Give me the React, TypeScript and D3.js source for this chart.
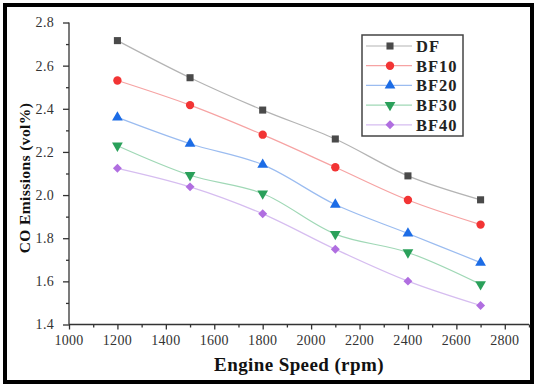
import React, { useRef, useEffect } from 'react';
import * as d3 from 'd3';

// engine speed (rpm)
const speeds = [1200, 1500, 1800, 2100, 2400, 2700];

// CO emissions (vol%) per fuel blend
const dfValues = [2.716, 2.544, 2.394, 2.26, 2.089, 1.978];
const bf10Values = [2.531, 2.417, 2.28, 2.129, 1.977, 1.863];
const bf20Values = [2.36, 2.238, 2.141, 1.956, 1.822, 1.687];
const bf30Values = [2.229, 2.092, 2.007, 1.819, 1.734, 1.586];
const bf40Values = [2.124, 2.038, 1.913, 1.749, 1.601, 1.488];

const seriesNames = ['DF', 'BF10', 'BF20', 'BF30', 'BF40'];
const xTicks = [1000, 1200, 1400, 1600, 1800, 2000, 2200, 2400, 2600, 2800];
const yTicks = [1.4, 1.6, 1.8, 2.0, 2.2, 2.4, 2.6, 2.8];

const App = () => {
    const svgRef = useRef(null);

    useEffect(() => {
        const svg = d3.select(svgRef.current);
        svg.selectAll('*').remove();

        const width = 537;
        const height = 385;

        svg.attr('width', width).attr('height', height);

        // white background and black frame
        svg.append('rect').attr('width', width).attr('height', height).attr('fill', '#fff');
        svg.append('rect')
            .attr('x', 5).attr('y', 5)
            .attr('width', 527).attr('height', 377)
            .attr('fill', 'none')
            .attr('stroke', '#000')
            .attr('stroke-width', 4);

        const x = d3.scaleLinear().domain([1000, 2900]).range([69, 529]);
        const y = d3.scaleLinear().domain([1.4, 2.8]).range([324.5, 22.5]);

        // diamond = square turned 45 degrees
        const series = [
            { name: seriesNames[0], values: dfValues, marker: '#4a4a4a', line: '#b4b4b4', symbol: d3.symbolSquare, size: 50, rot: 0 },
            { name: seriesNames[1], values: bf10Values, marker: '#f23434', line: '#f6a3a3', symbol: d3.symbolCircle, size: 55, rot: 0 },
            { name: seriesNames[2], values: bf20Values, marker: '#1c6ce6', line: '#9bbcf0', symbol: d3.symbolTriangle, size: 50, rot: 0 },
            { name: seriesNames[3], values: bf30Values, marker: '#2aa05a', line: '#a0d8b6', symbol: d3.symbolTriangle, size: 50, rot: 180 },
            { name: seriesNames[4], values: bf40Values, marker: '#b06ee0', line: '#d6bdf0', symbol: d3.symbolSquare, size: 40, rot: 45 },
        ];

        const font = "'Liberation Serif', 'Times New Roman', Times, serif";

        // axes
        const xAxis = svg.append('g').attr('transform', `translate(0,${y(1.4)})`);
        xAxis.call(d3.axisBottom(x).tickValues(d3.range(1000, 2901, 100)).tickSize(3).tickFormat(() => ''));
        xAxis.call(g => g.selectAll('.tick').filter(d => (d as number) % 200 === 0).select('line').attr('y2', 5));
        xAxis.selectAll('path,line').attr('stroke', '#333').attr('stroke-width', 1.3);
        xAxis.select('.domain').attr('d', `M${x(1000)},0H${x(2900)}`);

        svg.append('g').selectAll('text').data(xTicks).join('text')
            .attr('x', d => x(d))
            .attr('y', y(1.4) + 20)
            .attr('text-anchor', 'middle')
            .style('font-family', font)
            .style('font-size', '14px')
            .style('letter-spacing', '0.3px')
            .attr('fill', '#333')
            .text(d => d);

        const yAxis = svg.append('g').attr('transform', `translate(${x(1000)},0)`);
        yAxis.call(d3.axisLeft(y).tickValues(d3.range(14, 29).map(v => v / 10)).tickSize(3).tickFormat(() => ''));
        yAxis.call(g => g.selectAll('.tick').filter(d => Math.round((d as number) * 10) % 2 === 0).select('line').attr('x2', -6));
        yAxis.selectAll('path,line').attr('stroke', '#333').attr('stroke-width', 1.3);
        yAxis.select('.domain').attr('d', `M0,${y(2.8)}V${y(1.4)}`);

        svg.append('g').selectAll('text').data(yTicks).join('text')
            .attr('x', x(1000) - 15)
            .attr('y', d => y(d))
            .attr('dy', '0.35em')
            .attr('text-anchor', 'end')
            .style('font-family', font)
            .style('font-size', '14px')
            .style('letter-spacing', '0.3px')
            .attr('fill', '#333')
            .text(d => d.toFixed(1));

        // axis titles
        svg.append('text')
            .attr('transform', `translate(30,178) rotate(-90)`)
            .attr('text-anchor', 'middle')
            .style('font-family', font)
            .style('font-weight', 'bold')
            .style('font-size', '15.5px')
            .style('letter-spacing', '0.4px')
            .attr('fill', '#111')
            .text('CO Emissions (vol%)');

        svg.append('text')
            .attr('x', 299)
            .attr('y', 371)
            .attr('text-anchor', 'middle')
            .style('font-family', font)
            .style('font-weight', 'bold')
            .style('font-size', '19px')
            .style('letter-spacing', '0.4px')
            .attr('fill', '#111')
            .text('Engine Speed (rpm)');

        // lines and markers
        const line = d3.line<number>()
            .x((_, i) => x(speeds[i]))
            .y(d => y(d))
            .curve(d3.curveCatmullRom.alpha(0.5));

        series.forEach(s => {
            svg.append('path')
                .attr('d', line(s.values))
                .attr('fill', 'none')
                .attr('stroke', s.line)
                .attr('stroke-width', 1.2);

            svg.append('g').selectAll('path').data(s.values).join('path')
                .attr('d', d3.symbol().type(s.symbol).size(s.size)())
                .attr('transform', (d, i) => `translate(${x(speeds[i])},${y(d)}) rotate(${s.rot})`)
                .attr('fill', s.marker);
        });

        // legend
        const legend = svg.append('g');
        legend.append('rect')
            .attr('x', 362).attr('y', 35)
            .attr('width', 101).attr('height', 101)
            .attr('fill', '#fff')
            .attr('stroke', '#444')
            .attr('stroke-width', 1.5);

        series.forEach((s, i) => {
            const ly = 46 + i * 19.7;
            legend.append('line')
                .attr('x1', 366).attr('x2', 412)
                .attr('y1', ly).attr('y2', ly)
                .attr('stroke', s.line)
                .attr('stroke-width', 1.2);
            legend.append('path')
                .attr('d', d3.symbol().type(s.symbol).size(s.size)())
                .attr('transform', `translate(390,${ly}) rotate(${s.rot})`)
                .attr('fill', s.marker);
            legend.append('text')
                .attr('x', 416)
                .attr('y', ly)
                .attr('dy', '0.36em')
                .style('font-family', font)
                .style('font-weight', 'bold')
                .style('font-size', '16.5px')
                .style('letter-spacing', '1px')
                .attr('fill', '#222')
                .text(s.name);
        });
    }, []);

    return (
        <div style={{ position: 'fixed', left: 0, top: 0, width: 537, height: 385, background: '#fff' }}>
            <svg ref={svgRef} style={{ display: 'block' }} />
        </div>
    );
};

export default App;
